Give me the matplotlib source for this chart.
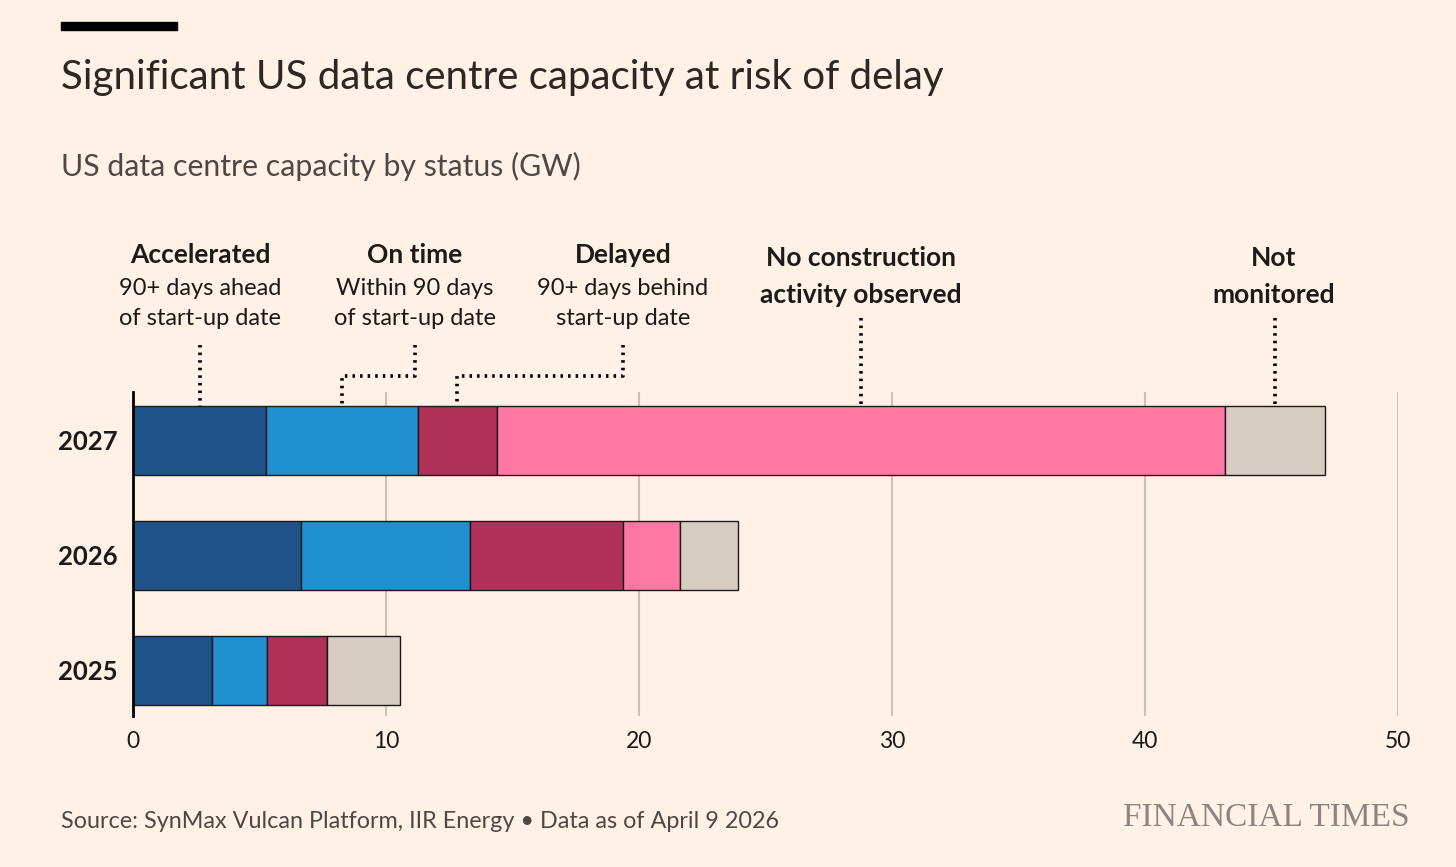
import matplotlib
matplotlib.use("Agg")
import matplotlib.pyplot as plt
import matplotlib.transforms as mtransforms
import numpy as np

# Dados (GW)
anos = ["2025", "2026", "2027"]
acelerado = [3.12, 6.64, 5.26]
no_prazo = [2.18, 6.68, 6.00]
atrasado = [2.37, 6.05, 3.12]
sem_obra = [0.00, 2.25, 28.78]
nao_monitorado = [2.88, 2.29, 3.95]

series = [acelerado, no_prazo, atrasado, sem_obra, nao_monitorado]
cores = ["#1f5288", "#2190cf", "#b0325a", "#ff78a3", "#d7ccc1"]

titulos = ["Accelerated", "On time", "Delayed", "No construction\nactivity observed", "Not\nmonitored"]
subtitulos = ["90+ days ahead\nof start-up date", "Within 90 days\nof start-up date",
              "90+ days behind\nstart-up date", None, None]
# posição horizontal (GW) do centro de cada rótulo
pos_rotulo = [2.65, 11.15, 19.37, 28.77, 45.1]

fundo = "#fff1e5"
plt.rcParams["font.family"] = ["Lato", "DejaVu Sans"]

W, H = 1456, 867
fig = plt.figure(figsize=(W / 100, H / 100), dpi=100, facecolor=fundo)

def fy(py):
    return 1 - py / H

ax = fig.add_axes([133 / W, fy(716), 1265 / W, (716 - 392) / H])
ax.set_facecolor(fundo)

y = np.arange(len(anos))
esquerda = np.zeros(len(anos))
for valores, cor in zip(series, cores):
    valores = np.array(valores)
    ax.barh(y, valores, left=esquerda, height=0.6, color=cor,
            edgecolor="#1a1a1a", linewidth=1, zorder=3)
    esquerda += valores

ax.set_xlim(0, 50)
ax.set_ylim(-0.4, 2.42)
ax.set_xticks([0, 10, 20, 30, 40, 50])
ax.set_yticks(y)
ax.set_yticklabels(anos, fontsize=18.5, fontweight="bold", color="#1a1a1a")
ax.tick_params(axis="both", length=0)
ax.tick_params(axis="x", labelsize=16.5, pad=11, labelcolor="#1a1a1a")
ax.tick_params(axis="y", pad=11)
for s in ["top", "right", "bottom"]:
    ax.spines[s].set_visible(False)
ax.spines["left"].set_color("black")
ax.spines["left"].set_linewidth(2)
ax.spines["left"].set_zorder(5)
for xv in [10, 20, 30, 40, 50]:
    ax.axvline(xv, color="#ccc1b7", linewidth=1.5, zorder=1)

# Linhas pontilhadas ligando os rótulos às barras de 2027
trans = mtransforms.blended_transform_factory(ax.transData, fig.transFigure)
topo_barra = fy(406)
inicio = 0
meios = []
for valores in series:
    meios.append(inicio + valores[2] / 2)
    inicio += valores[2]

estilo = dict(color="black", linewidth=2.6, linestyle=(0, (0.7, 1.4)),
              transform=trans, clip_on=False, zorder=6)
for i, (meio, xr) in enumerate(zip(meios, pos_rotulo)):
    if subtitulos[i] is not None:
        y_ini = fy(345)
    else:
        y_ini = fy(318)
    if abs(meio - xr) > 0.5:
        y_meio = fy(376)
        ax.plot([xr, xr, meio, meio], [y_ini, y_meio, y_meio, topo_barra], **estilo)
    else:
        ax.plot([meio, meio], [y_ini, topo_barra], **estilo)

for i, xr in enumerate(pos_rotulo):
    if subtitulos[i] is not None:
        ax.text(xr, fy(255), titulos[i], transform=trans, ha="center", va="center",
                fontsize=19, fontweight="bold", color="#1a1a1a")
        ax.text(xr, fy(303.5), subtitulos[i], transform=trans, ha="center", va="center",
                fontsize=17, color="#1a1a1a", linespacing=1.55)
    else:
        ax.text(xr, fy(276.5), titulos[i], transform=trans, ha="center", va="center",
                fontsize=19, fontweight="bold", color="#1a1a1a", linespacing=1.62)

# Título, subtítulo e rodapé
fig.patches.append(plt.Rectangle((61 / W, fy(30)), 116 / W, 8 / H,
                                 transform=fig.transFigure, color="black"))
fig.text(61 / W, fy(77), "Significant US data centre capacity at risk of delay",
         fontsize=29, color="#2b2725", va="center", ha="left")
fig.text(61 / W, fy(166), "US data centre capacity by status (GW)",
         fontsize=21.8, color="#4d4845", va="center", ha="left")
fig.text(61 / W, fy(822), "Source: SynMax Vulcan Platform, IIR Energy \u2022 Data as of April 9 2026",
         fontsize=16.8, color="#4d4845", va="center", ha="left")
fig.text(1410 / W, fy(818), "FINANCIAL TIMES", fontsize=24, color="#8a8580",
         family=["Liberation Serif", "DejaVu Serif"], va="center", ha="right")

fig.savefig("out.png", dpi=100, facecolor=fundo)
